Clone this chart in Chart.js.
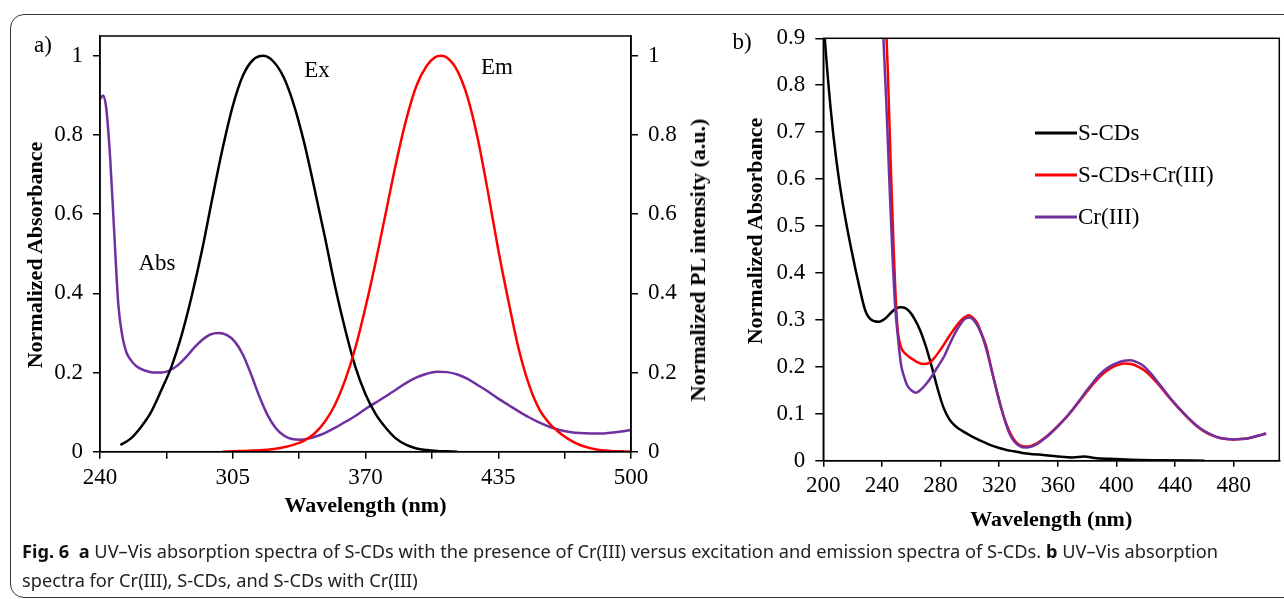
<!DOCTYPE html>
<html>
<head>
<meta charset="utf-8">
<script src="https://cdn.jsdelivr.net/npm/chart.js@4.4.0/dist/chart.umd.min.js"></script>
<style>
  body { margin:0; background:#fff; width:1284px; height:599px; overflow:hidden; position:relative; font-family:'Liberation Serif', serif; }
  #frame { position:absolute; left:10px; top:14px; width:1300px; height:582px; border:1.5px solid #333; border-radius:14px; }
  canvas { position:absolute; top:0; }
  #chartA { left:0; }
  #chartB { left:720px; }
  .lbl { position:absolute; font-size:23px; transform:translate(-50%,-50%); white-space:nowrap; color:#000; }
  .vt { position:absolute; font-size:22px; font-weight:bold; white-space:nowrap; color:#000; transform:translate(-50%,-50%) rotate(-90deg); }
  #caption { position:absolute; left:22px; top:537px; font-family:'Noto Sans', sans-serif; font-size:18px; line-height:29px; color:#222; transform-origin:left top; white-space:nowrap; }
  #caption b { color:#111; }
</style>
</head>
<body>
<div id="frame"></div>
<canvas id="chartA" width="720" height="530"></canvas>
<canvas id="chartB" width="564" height="540"></canvas>
<div class="lbl" style="left:43px;top:45px">a)</div>
<div class="lbl" style="left:742px;top:42px">b)</div>
<div class="lbl" style="left:317px;top:70px">Ex</div>
<div class="lbl" style="left:497px;top:67px">Em</div>
<div class="lbl" style="left:157px;top:263px">Abs</div>
<div class="vt" style="left:35px;top:255px">Normalized Absorbance</div>
<div class="vt" style="left:698px;top:260px">Normalized PL intensity (a.u.)</div>
<div class="vt" style="left:755px;top:231px">Normalized Absorbance</div>
<div id="caption"><span id="capLine1"><b>Fig. 6</b>&nbsp; <b>a</b> UV–Vis absorption spectra of S-CDs with the presence of Cr(III) versus excitation and emission spectra of S-CDs. <b>b</b> UV–Vis absorption</span><br>spectra for Cr(III), S-CDs, and S-CDs with Cr(III)</div>
<script>
// panel a) excitation / emission / absorbance
const exWave = [250,255,260,265,270,275,280,285,290,295,300,305,310,315,320,325,330,335,340,345,350,355,360,365,370,375,380,385,390,395,400,405,410,415];
const exValue = [0.017,0.033,0.062,0.10,0.155,0.215,0.295,0.395,0.51,0.64,0.765,0.873,0.95,0.99,1.0,0.985,0.945,0.875,0.78,0.665,0.545,0.42,0.31,0.215,0.145,0.095,0.06,0.033,0.017,0.008,0.004,0.002,0.001,0];

const emWave = [300,305,310,315,320,325,330,335,340,345,350,355,360,365,370,375,380,385,390,395,400,404,407,410,415,420,425,430,435,440,445,450,455,460,465,470,475,480,485,490,495,500];
const emValue = [0,0.001,0.002,0.003,0.004,0.007,0.011,0.018,0.028,0.046,0.075,0.118,0.18,0.262,0.365,0.48,0.605,0.73,0.84,0.925,0.975,0.996,1.0,0.995,0.962,0.895,0.79,0.655,0.51,0.38,0.26,0.17,0.108,0.072,0.048,0.03,0.017,0.009,0.004,0.002,0.001,0];

const absWave = [240,241.5,243,245,247,249,251,253,255,258,262,266,270,274,278,282,286,290,294,298,302,306,310,314,318,322,326,330,334,338,342,346,350,355,360,365,370,375,380,385,390,395,400,405,410,415,420,425,430,435,440,445,450,455,460,465,470,475,480,485,490,495,500];
const absValue = [0.89,0.90,0.87,0.74,0.55,0.37,0.29,0.25,0.232,0.215,0.205,0.2,0.2,0.205,0.218,0.238,0.262,0.282,0.296,0.30,0.295,0.278,0.245,0.195,0.14,0.093,0.06,0.041,0.032,0.03,0.033,0.039,0.047,0.06,0.075,0.09,0.108,0.124,0.14,0.157,0.174,0.188,0.197,0.202,0.201,0.195,0.184,0.168,0.152,0.134,0.118,0.102,0.087,0.074,0.063,0.055,0.05,0.047,0.046,0.046,0.048,0.051,0.055];

const aXTicks = [240,305,370,435,500];

// panel b) absorption spectra
const scdWave = [200,201,203,205,207,209,211,213,216,219,222,225,227,229,232,235,238,241,244,247,250,253,256,259,262,266,270,274,278,282,286,290,295,300,305,310,315,320,325,330,335,340,350,360,370,378,385,395,410,430,460];
const scdValue = [0.94,0.9,0.82,0.75,0.69,0.638,0.593,0.553,0.5,0.452,0.407,0.365,0.338,0.317,0.302,0.297,0.296,0.3,0.308,0.318,0.325,0.327,0.325,0.317,0.303,0.278,0.243,0.2,0.153,0.113,0.088,0.074,0.063,0.054,0.046,0.039,0.032,0.027,0.023,0.02,0.017,0.015,0.012,0.009,0.007,0.009,0.006,0.004,0.002,0.001,0];

const mixWave = [242,244,246,248,250,251,253,255,257,260,264,268,272,276,280,284,288,292,296,299,302,305,308,311,314,317,320,323,326,329,332,336,340,345,350,355,360,365,370,375,380,385,390,395,400,405,410,415,420,425,430,435,440,445,450,455,460,465,470,475,480,485,490,495,500,502];
const mixValue = [0.99,0.83,0.63,0.45,0.31,0.272,0.242,0.231,0.225,0.218,0.21,0.206,0.208,0.22,0.237,0.256,0.275,0.292,0.305,0.31,0.305,0.293,0.27,0.245,0.205,0.165,0.128,0.095,0.069,0.05,0.038,0.031,0.03,0.036,0.046,0.059,0.074,0.09,0.108,0.128,0.148,0.167,0.183,0.195,0.203,0.207,0.206,0.2,0.19,0.175,0.157,0.138,0.12,0.103,0.087,0.073,0.062,0.054,0.049,0.046,0.045,0.046,0.048,0.052,0.056,0.058];

const crWave = [240,241,243,245,247,249,251,253,255,257,260,263,266,270,274,278,282,286,290,294,297,300,303,306,309,312,315,318,321,324,327,330,334,338,342,346,350,355,360,365,370,375,380,385,390,395,400,405,409,413,418,425,430,435,440,445,450,455,460,465,470,475,480,485,490,495,500,502];
const crValue = [0.97,0.9,0.76,0.6,0.45,0.33,0.26,0.205,0.18,0.162,0.15,0.145,0.15,0.163,0.18,0.2,0.22,0.247,0.273,0.293,0.303,0.305,0.298,0.283,0.26,0.228,0.19,0.152,0.116,0.084,0.058,0.042,0.031,0.028,0.03,0.036,0.045,0.058,0.073,0.09,0.109,0.13,0.151,0.171,0.188,0.2,0.208,0.213,0.214,0.211,0.203,0.18,0.16,0.14,0.121,0.104,0.088,0.074,0.063,0.055,0.049,0.046,0.045,0.046,0.048,0.052,0.056,0.058];

const legendLabels = ['S-CDs', 'S-CDs+Cr(III)', 'Cr(III)'];

const BLACK = '#000000';
const RED = '#ff0000';
const PURPLE = '#7030a0';

Chart.defaults.font.family = "'Liberation Serif', 'Times New Roman', serif";
Chart.defaults.color = '#000';

function pts(xs, ys) {
  return xs.map((x, i) => ({ x: x, y: ys[i] }));
}

function line(label, xs, ys, color, axis, order) {
  return {
    label: label,
    data: pts(xs, ys),
    borderColor: color,
    backgroundColor: color,
    borderWidth: 2.5,
    pointRadius: 0,
    fill: false,
    cubicInterpolationMode: 'monotone',
    yAxisID: axis,
    order: order
  };
}

// box round the plot area
const framePlugin = {
  id: 'frame',
  afterDraw(chart) {
    const a = chart.chartArea;
    const ctx = chart.ctx;
    ctx.save();
    ctx.strokeStyle = '#000';
    ctx.lineWidth = 1.5;
    ctx.strokeRect(a.left, a.top, a.right - a.left, a.bottom - a.top);
    ctx.restore();
  }
};

const insideLegend = {
  id: 'insideLegend',
  afterDraw(chart) {
    const ctx = chart.ctx;
    ctx.save();
    ctx.font = "23px 'Liberation Serif'";
    ctx.textBaseline = 'middle';
    ctx.fillStyle = '#000';
    chart.data.datasets.forEach((ds, i) => {
      const y = 133 + i * 42;
      ctx.strokeStyle = ds.borderColor;
      ctx.lineWidth = 3;
      ctx.beginPath();
      ctx.moveTo(315, y);
      ctx.lineTo(357, y);
      ctx.stroke();
      ctx.fillText(ds.label, 358, y + 1);
    });
    ctx.restore();
  }
};

const shortNum = v => String(Math.round(v * 10) / 10);

function yAxis(position, max, step, width, tickLen) {
  return {
    type: 'linear',
    position: position,
    min: 0,
    max: max,
    afterFit: s => { s.width = width; },
    ticks: { stepSize: step, includeBounds: false, padding: 10, font: { size: 23 }, color: '#000', callback: shortNum },
    grid: { drawOnChartArea: false, drawTicks: true, tickLength: tickLen, color: '#000', lineWidth: 1.5 },
    border: { display: true, color: '#000', width: 1.5 },
    title: { display: false }
  };
}

const chartA = new Chart(document.getElementById('chartA'), {
  type: 'line',
  data: {
    datasets: [
      line('Em', emWave, emValue, RED, 'y2', 0),
      line('Ex', exWave, exValue, BLACK, 'y2', 1),
      line('Abs', absWave, absValue, PURPLE, 'y', 2)
    ]
  },
  options: {
    responsive: false,
    animation: false,
    layout: { padding: { top: 36, left: 0, right: 0, bottom: 0 } },
    plugins: { legend: { display: false }, tooltip: { enabled: false } },
    scales: {
      x: {
        type: 'linear',
        position: 'bottom',
        min: 240,
        max: 500,
        afterFit: s => { s.height = 78.3; },
        ticks: {
          stepSize: 32.5,
          autoSkip: false,
          maxRotation: 0,
          padding: 5,
          font: { size: 23 },
          color: '#000',
          callback: v => (aXTicks.indexOf(v) >= 0 ? String(v) : '')
        },
        grid: { drawOnChartArea: false, drawTicks: true, tickLength: 7, color: '#000', lineWidth: 1.5 },
        border: { display: true, color: '#000', width: 1.5 },
        title: { display: true, text: 'Wavelength (nm)', font: { size: 22, weight: 'bold' }, padding: { top: 0, bottom: 10 }, color: '#000' }
      },
      y: yAxis('left', 1.05, 0.2, 100, 7),
      y2: yAxis('right', 1.05, 0.2, 89, 7)
    }
  },
  plugins: [framePlugin]
});

const chartB = new Chart(document.getElementById('chartB'), {
  type: 'line',
  data: {
    datasets: [
      line(legendLabels[0], scdWave, scdValue, BLACK, 'y', 2),
      line(legendLabels[1], mixWave, mixValue, RED, 'y', 1),
      line(legendLabels[2], crWave, crValue, PURPLE, 'y', 0)
    ]
  },
  options: {
    responsive: false,
    animation: false,
    layout: { padding: { top: 38.3, left: 0, right: 4.7, bottom: 0 } },
    plugins: { legend: { display: false }, tooltip: { enabled: false } },
    scales: {
      x: {
        type: 'linear',
        position: 'bottom',
        min: 200,
        max: 511,
        afterFit: s => { s.height = 79.3; },
        ticks: { stepSize: 40, includeBounds: false, autoSkip: false, maxRotation: 0, padding: 5, font: { size: 23 }, color: '#000' },
        grid: { drawOnChartArea: false, drawTicks: true, tickLength: 6, color: '#000', lineWidth: 1.5 },
        border: { display: true, color: '#000', width: 1.5 },
        title: { display: true, text: 'Wavelength (nm)', font: { size: 22, weight: 'bold' }, padding: { top: 0, bottom: 6 }, color: '#000' }
      },
      y: yAxis('left', 0.9, 0.1, 103.3, 8)
    }
  },
  plugins: [framePlugin, insideLegend]
});

// squeeze the caption to the width of the printed one
const cap = document.getElementById('caption');
const w1 = document.getElementById('capLine1').getBoundingClientRect().width;
cap.style.transform = 'scaleX(' + (1196 / w1) + ')';
</script>
</body>
</html>
